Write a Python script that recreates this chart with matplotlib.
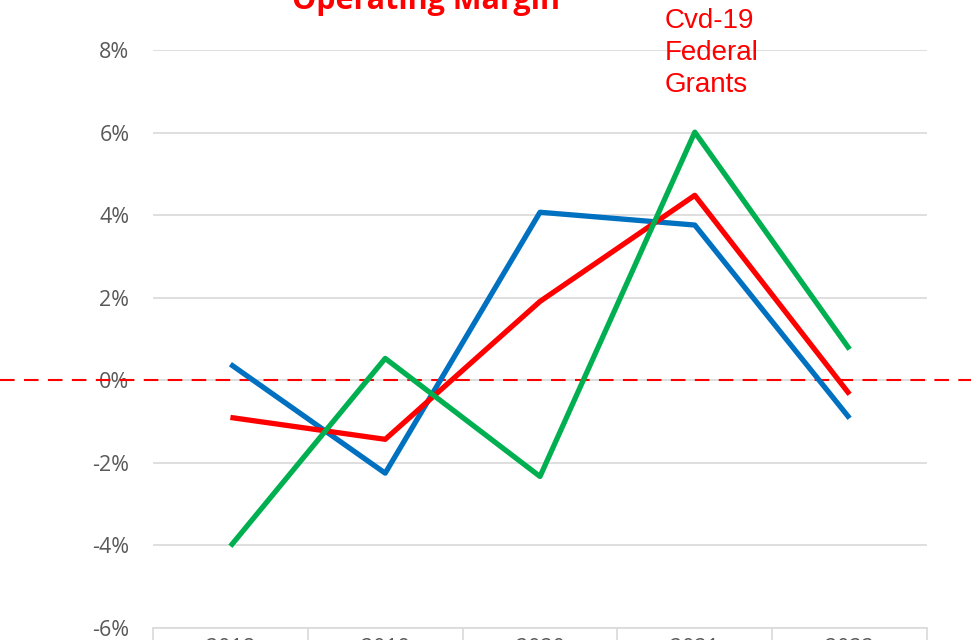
import matplotlib
matplotlib.use("Agg")
import matplotlib.pyplot as plt

years = ["2018", "2019", "2020", "2021", "2022"]
blue_vals = [0.39, -2.25, 4.07, 3.76, -0.92]
red_vals = [-0.90, -1.43, 1.91, 4.48, -0.34]
green_vals = [-4.02, 0.53, -2.33, 6.01, 0.75]
y_ticks = [-6, -4, -2, 0, 2, 4, 6, 8]

W, H = 971, 640
fig = plt.figure(figsize=(W / 100, H / 100), dpi=100)
ax = fig.add_axes([153 / W, 12 / H, (927 - 153) / W, (628 - 50) / H])

x = list(range(len(years)))
ax.plot(x, blue_vals, color="#0070C0", lw=3.8, solid_capstyle="butt", zorder=3)
ax.plot(x, red_vals, color="#FF0000", lw=3.8, solid_capstyle="butt", zorder=3)
ax.plot(x, green_vals, color="#00B050", lw=3.8, solid_capstyle="butt", zorder=3)

ax.set_xlim(-0.5, 4.5)
ax.set_ylim(-6, 8)
ax.set_yticks(y_ticks)
ax.set_yticklabels([f"{v}%" for v in y_ticks], fontsize=15.5, color="#595959",
                   family=["Open Sans", "DejaVu Sans"])
ax.tick_params(axis="y", length=0, pad=17)
ax.grid(axis="y", color="#d9d9d9", lw=1.2)
ax.set_axisbelow(True)

ax.set_xticks(x)
ax.set_xticklabels(years, fontsize=15.5, color="#595959", family=["Open Sans", "DejaVu Sans"])
ax.set_xticks([i - 0.5 for i in range(len(years) + 1)], minor=True)
ax.tick_params(axis="x", which="major", length=0, pad=7)
ax.tick_params(axis="x", which="minor", length=25, color="#d9d9d9", width=1.2)

for s in ["top", "left", "right"]:
    ax.spines[s].set_visible(False)
ax.spines["bottom"].set_color("#d9d9d9")
ax.spines["bottom"].set_linewidth(1.2)

# red dashed zero line across the full width
ax.plot([-153 / 774, (971 - 153) / 774], [0, 0], transform=ax.get_yaxis_transform(),
        color="#FF0000", lw=1.5, ls=(0, (7, 4.5)), clip_on=False, zorder=2)

fig.text(426 / W, 1 - 9 / H, "Operating Margin", color="#FF0000", fontsize=22,
         fontweight="bold", ha="center", va="baseline", family=["Open Sans", "DejaVu Sans"])

fig.text(665 / W, 1 - 8 / H, "Cvd-19\nFederal\nGrants", color="#FF0000", fontsize=20,
         ha="left", va="top", linespacing=1.3,
         family=["Liberation Sans Narrow", "Liberation Sans", "DejaVu Sans"])

fig.savefig("out.png", dpi=100)
